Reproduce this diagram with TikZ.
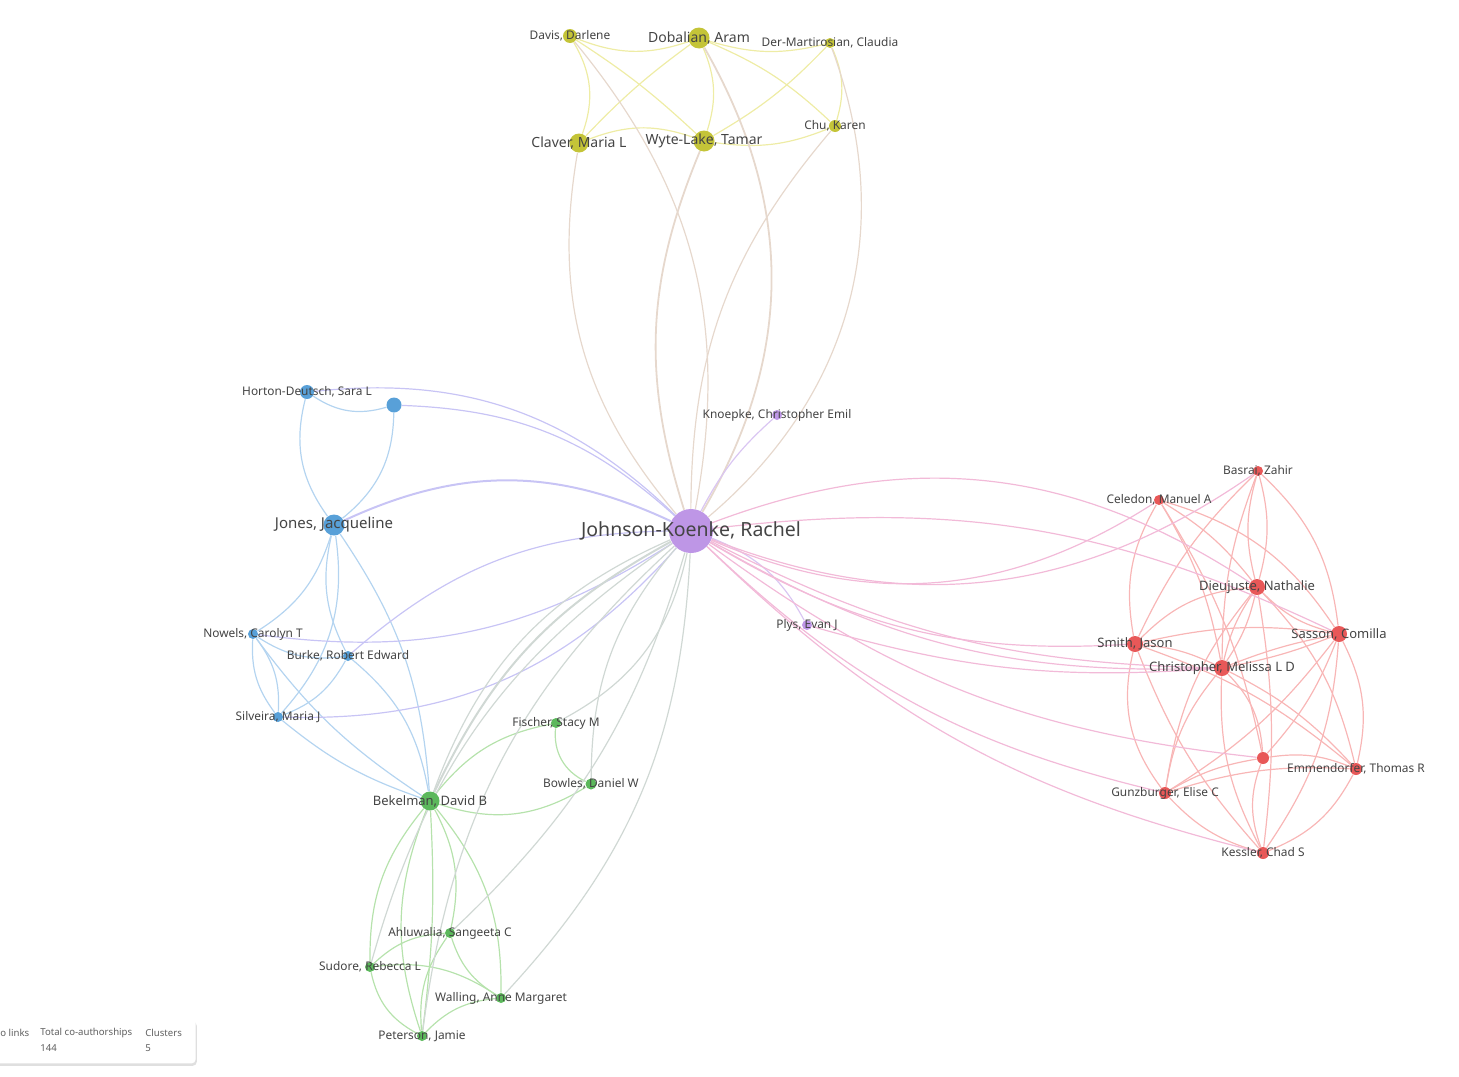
\documentclass[tikz,border=0pt]{standalone}
\usepackage{fontspec}
\setmainfont{Noto Sans}
\usetikzlibrary{backgrounds,shadows}
\definecolor{ycol}{RGB}{196,196,56}
\definecolor{bcol}{RGB}{88,160,216}
\definecolor{pcol}{RGB}{190,150,230}
\definecolor{gcol}{RGB}{92,184,92}
\definecolor{rcol}{RGB}{232,88,88}
\definecolor{yedge}{RGB}{238,236,165}
\definecolor{bedge}{RGB}{180,212,240}
\definecolor{gedge}{RGB}{182,226,172}
\definecolor{redge}{RGB}{248,182,182}
\definecolor{pedge}{RGB}{218,198,242}
\definecolor{pyedge}{RGB}{230,216,205}
\definecolor{pbedge}{RGB}{200,196,245}
\definecolor{pgedge}{RGB}{208,216,212}
\definecolor{predge}{RGB}{242,186,216}
\definecolor{txt}{RGB}{68,68,68}
\tikzset{
  au/.style={circle,inner sep=0pt,minimum size=#1*0.5pt},
  yau/.style={au=#1,fill=ycol},
  bau/.style={au=#1,fill=bcol},
  pau/.style={au=#1,fill=pcol},
  gau/.style={au=#1,fill=gcol},
  rau/.style={au=#1,fill=rcol},
  lab/.style={font=\fontsize{5.95}{7}\selectfont,text=txt,inner sep=0pt},
  labm/.style={font=\fontsize{6.5}{8}\selectfont,text=txt,inner sep=0pt},
  labb/.style={font=\fontsize{7}{8}\selectfont,text=txt,inner sep=0pt},
  labl/.style={font=\fontsize{9.75}{11}\selectfont,text=txt,inner sep=0pt},
  yl/.style={draw=yedge,line width=0.6pt},
  bl/.style={draw=bedge,line width=0.6pt},
  gl/.style={draw=gedge,line width=0.6pt},
  rl/.style={draw=redge,line width=0.6pt},
  pl/.style={draw=pedge,line width=0.6pt},
  pyl/.style={draw=pyedge,line width=0.6pt},
  pbl/.style={draw=pbedge,line width=0.6pt},
  pgl/.style={draw=pgedge,line width=0.6pt},
  prl/.style={draw=predge,line width=0.6pt},
  legh/.style={font=\fontsize{4.8}{5.5}\selectfont\bfseries,text=txt!85,inner sep=0pt,anchor=west},
  legv/.style={font=\fontsize{4.8}{5.5}\selectfont,text=txt!85,inner sep=0pt,anchor=west}
}
\begin{document}
\begin{tikzpicture}[x=0.5pt,y=0.5pt]
\useasboundingbox (0,0) rectangle (1459,-1076);

% yellow
\node[yau=14] (dav) at (570,-36)  [label={[lab]center:{Davis, Darlene}}] {};
\node[yau=21] (dob) at (699,-38)  [label={[labb]center:{Dobalian, Aram}}] {};
\node[yau=10] (der) at (830,-43)  [label={[lab]center:{Der-Martirosian, Claudia}}] {};
\node[yau=19] (cla) at (579,-143) [label={[labb]center:{Claver, Maria L}}] {};
\node[yau=21] (wyt) at (704,-141) [label={[labb]center:{Wyte-Lake, Tamar}}] {};
\node[yau=12] (chu) at (835,-126) [label={[lab]center:{Chu, Karen}}] {};

% blue
\node[bau=14] (hor) at (307,-392) [label={[lab]center:{Horton-Deutsch, Sara L}}] {};
\node[bau=15] (ubl) at (394,-405) {};
\node[bau=21] (jon) at (334,-525) [label={[labb,font=\fontsize{7.5}{9}\selectfont]center:{Jones, Jacqueline}}] {};
\node[bau=10] (now) at (253,-634) [label={[lab]center:{Nowels, Carolyn T}}] {};
\node[bau=10] (bur) at (348,-656) [label={[lab]center:{Burke, Robert Edward}}] {};
\node[bau=10] (sil) at (278,-717) [label={[lab]center:{Silveira, Maria J}}] {};

% purple
\node[pau=44] (jk)  at (691,-531) [label={[labl]center:{Johnson-Koenke, Rachel}}] {};
\node[pau=10] (kno) at (777,-415) [label={[lab]center:{Knoepke, Christopher Emil}}] {};
\node[pau=10] (ply) at (807,-625) [label={[lab]center:{Plys, Evan J}}] {};

% green
\node[gau=10] (fis) at (556,-723) [label={[lab]center:{Fischer, Stacy M}}] {};
\node[gau=11] (bow) at (591,-784) [label={[lab]center:{Bowles, Daniel W}}] {};
\node[gau=19] (bek) at (430,-801) [label={[labm]center:{Bekelman, David B}}] {};
\node[gau=10] (ahl) at (450,-933) [label={[lab]center:{Ahluwalia, Sangeeta C}}] {};
\node[gau=10] (sud) at (370,-967) [label={[lab]center:{Sudore, Rebecca L}}] {};
\node[gau=10] (wal) at (501,-998) [label={[lab]center:{Walling, Anne Margaret}}] {};
\node[gau=10] (pet) at (422,-1036) [label={[lab]center:{Peterson, Jamie}}] {};

% red
\node[rau=10] (bas) at (1258,-471) [label={[lab]center:{Basrai, Zahir}}] {};
\node[rau=10] (cel) at (1159,-500) [label={[lab]center:{Celedon, Manuel A}}] {};
\node[rau=16] (die) at (1257,-587) [label={[labm]center:{Dieujuste, Nathalie}}] {};
\node[rau=16] (sas) at (1339,-634) [label={[labm]center:{Sasson, Comilla}}] {};
\node[rau=16] (smi) at (1135,-644) [label={[labm]center:{Smith, Jason}}] {};
\node[rau=16] (chr) at (1222,-668) [label={[labm]center:{Christopher, Melissa L D}}] {};
\node[rau=12] (unr) at (1263,-758) {};
\node[rau=12] (emm) at (1356,-769) [label={[lab]center:{Emmendorfer, Thomas R}}] {};
\node[rau=12] (gun) at (1165,-793) [label={[lab]center:{Gunzburger, Elise C}}] {};
\node[rau=12] (kes) at (1263,-853) [label={[lab]center:{Kessler, Chad S}}] {};

\begin{scope}[on background layer]
\path[yl] (dav) edge[bend right=20] (dob) edge[bend left=25] (cla) edge[bend left=5] (wyt)
(dob) edge[bend right=5] (cla) edge[bend left=20] (wyt) edge[bend right=15] (der) edge[bend left=10] (chu)
(cla) edge[bend left=20] (wyt)
(wyt) edge[bend right=8] (der) edge[bend right=15] (chu)
(der) edge[bend left=20] (chu);
\path[pyl] (dav) edge[bend left=25] (jk)
(dob) edge[bend left=30, line width=0.9pt] (jk)
(cla) edge[bend right=25] (jk)
(wyt) edge[bend right=20, line width=0.9pt] (jk)
(chu) edge[bend right=20] (jk)
(der) edge[bend left=35] (jk);

\path[bl] (hor) edge[bend right=25] (ubl) edge[bend right=25] (jon)
(ubl) edge[bend left=25] (jon)
(jon) edge[bend left=20] (now) edge[bend right=20] (bur) edge[bend left=25] (sil) edge[bend left=15] (bek)
(now) edge[bend right=20] (bur) edge[bend left=20] (sil) edge[bend right=20] (sil) edge[bend right=10] (bek)
(bur) edge[bend left=20] (sil) edge[bend left=20] (bek)
(sil) edge[bend right=10] (bek);
\path[pbl] (hor) edge[bend left=25] (jk)
(ubl) edge[bend left=20] (jk)
(jon) edge[bend left=25, line width=1pt] (jk)
(now) edge[bend right=20] (jk)
(bur) edge[bend left=20] (jk)
(sil) edge[bend right=25] (jk);

\path[pl] (jk) edge[bend left=10] (kno) edge[bend left=20] (ply);

\path[gl] (bek) edge[bend left=20] (fis) edge[bend right=25] (bow) edge[bend left=20] (ahl)
edge[bend left=20] (wal) edge[bend right=20] (sud) edge[bend right=20] (pet) edge[bend left=5] (pet)
(fis) edge[bend right=35] (bow)
(sud) edge[bend left=20] (ahl) edge[bend left=20] (wal) edge[bend right=25] (pet)
(ahl) edge[bend right=20] (wal) edge[bend right=20] (pet)
(wal) edge[bend right=20] (pet);
\path[pgl] (bek) edge[bend left=18, line width=1pt] (jk) edge[bend left=23] (jk)
(fis) edge[bend right=25] (jk)
(bow) edge[bend left=20] (jk)
(ahl) edge[bend right=15] (jk)
(wal) edge[bend right=20] (jk)
(pet) edge[bend left=20] (jk)
(sud) edge[bend left=20] (jk);

\path[rl] (bas) edge[bend left=15] (die) edge[bend right=15] (die) edge[bend left=20] (sas)
edge[bend right=10] (chr) edge[bend right=10] (smi)
(cel) edge[bend right=20] (smi) edge[bend left=10] (die) edge[bend left=20] (sas)
edge[bend left=10] (chr) edge[bend left=10] (unr)
(die) edge[bend right=20] (smi) edge[bend left=10] (chr) edge[bend right=10] (chr)
edge[bend right=15] (sas) edge[bend right=15] (gun) edge[bend left=8] (kes) edge[bend left=15] (emm)
(sas) edge[bend right=5] (chr) edge[bend left=5] (chr) edge[bend right=10] (smi) edge[bend left=10] (unr)
edge[bend left=20] (emm) edge[bend left=15] (kes) edge[bend left=10] (gun)
(smi) edge[bend left=10] (chr) edge[bend right=25] (gun) edge[bend right=10] (kes) edge[bend left=10] (emm)
(chr) edge[bend left=20] (unr) edge[bend left=10] (emm) edge[bend right=15] (gun) edge[bend right=15] (kes)
(unr) edge[bend right=10] (gun) edge[bend left=15] (emm) edge[bend right=20] (kes)
(emm) edge[bend left=20] (kes)
(gun) edge[bend right=15] (kes) edge[bend left=10] (emm);
\path[prl] (jk) edge[bend left=27] (die) edge[bend left=16] (sas) edge[bend right=28] (cel)
edge[bend right=28] (bas) edge[bend right=17] (smi) edge[bend right=13] (chr) edge[bend right=16] (chr)
edge[bend right=15] (unr) edge[bend right=15] (gun) edge[bend right=15] (kes)
(ply) edge[bend right=10] (chr);
\end{scope}

% legend
\node[fill=white, rounded corners=2pt, drop shadow={opacity=0.25,shadow xshift=0.6pt,shadow yshift=-1.2pt}, minimum width=108pt, minimum height=22pt, anchor=north east] (leg) at (196,-1019) {};
\node[legh] (lh1) at (0,-1033) {o links};
\node[legh] (lh2) at (40,-1033) {Total co-authorships};
\node[legh] (lh3) at (145,-1033) {Clusters};
\node[legv] (lv2) at (40,-1048) {144};
\node[legv] (lv3) at (145,-1048) {5};
\end{tikzpicture}
\end{document}
